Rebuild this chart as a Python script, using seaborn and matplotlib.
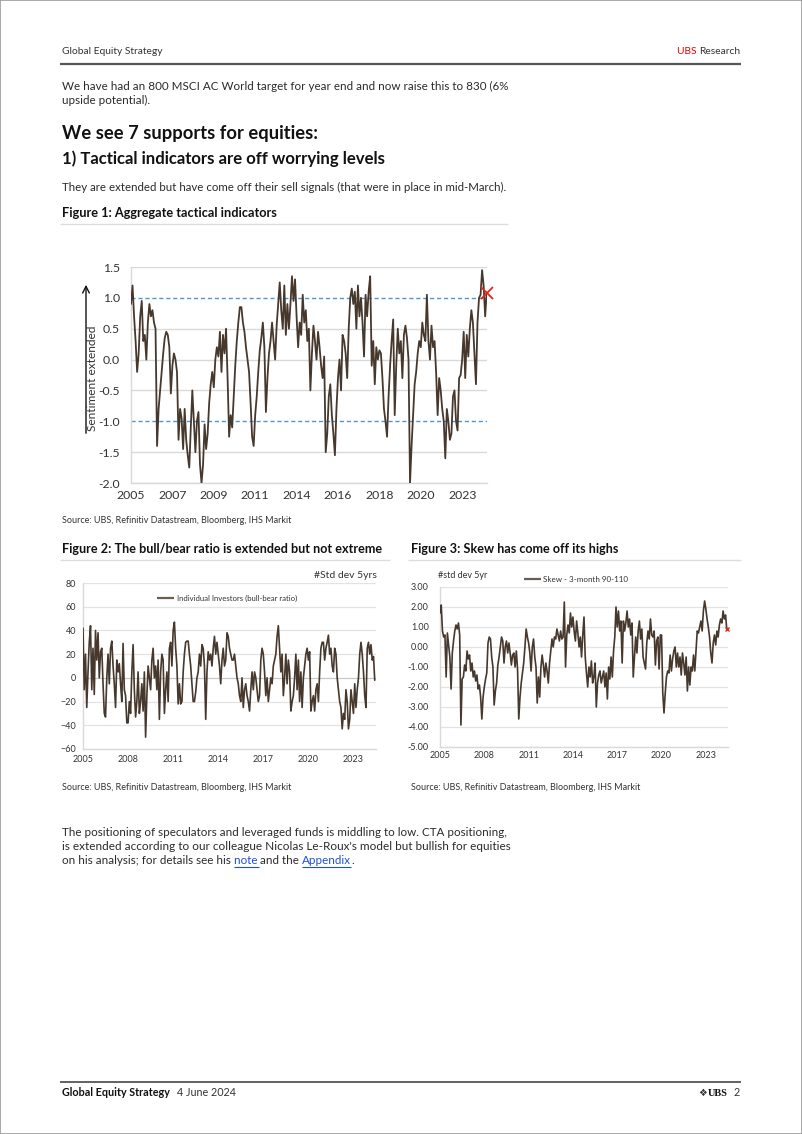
import numpy as np
import pandas as pd
import matplotlib
matplotlib.use("Agg")
import matplotlib.pyplot as plt
from matplotlib.lines import Line2D
from matplotlib.patches import FancyArrowPatch, Rectangle
import seaborn as sns

# ---------------- data (monthly readings, Jan 2005 onwards) ----------------
tactical_values = [
    0.9, 1.2, 0.7, 0.3, -0.2, 0.1, 0.7, 0.95, 0.3, 0.4, 0.0, 0.6,
    0.9, 0.7, 0.8, 0.6, 0.5, -1.4, -0.8, -0.5, -0.2, 0.1, 0.35, 0.45,
    0.4, 0.2, -0.55, -0.1, 0.1, 0.0, -0.2, -1.3, -0.8, -0.95, -1.45, -0.8,
    -1.3, -1.55, -1.75, -1.1, -0.5, -1.0, -1.5, -1.0, -0.85, -1.7, -2.0, -1.7,
    -1.05, -1.45, -1.2, -0.7, -0.4, -0.2, -0.45, 0.0, 0.2, 0.05, 0.45, -0.2,
    0.4, 0.1, 0.5, -0.3, -1.25, -0.9, -1.1, -0.6, -0.1, 0.3, 0.6, 0.85,
    0.85, 0.6, 0.45, 0.2, 0.0, -0.2, -0.7, -1.25, -1.4, -0.9, -0.6, -0.2,
    0.15, 0.35, 0.6, 0.2, -0.85, -0.3, 0.1, 0.3, 0.6, 0.3, 0.0, 0.55,
    0.9, 1.25, 0.8, 0.5, 1.2, 0.4, 0.9, 0.5, 0.9, 1.35, 0.95, 1.3,
    0.7, 0.2, 0.6, 0.4, 1.05, 0.6, 0.8, 0.3, 0.5, -0.5, 0.1, 0.55,
    0.3, 0.0, 0.45, 0.2, -0.1, -0.3, 0.05, -1.5, -1.2, -0.6, -0.4, -0.9,
    -1.2, -1.55, -0.8, -0.3, 0.0, -0.5, 0.4, 0.3, 0.1, -0.3, 0.5, 1.0,
    1.15, 0.9, 1.1, 0.5, 1.2, 0.7, 1.0, 0.6, 0.05, 1.05, 0.7, 1.1,
    1.35, -0.1, 0.3, -0.4, 0.2, 0.0, 0.15, 0.1, -0.3, -0.8, -1.0, -1.25,
    -0.6, -0.1, 0.3, 0.65, -0.9, -0.1, 0.5, 0.1, 0.3, -0.3, 0.4, 0.55,
    0.35, 0.0, -2.0, -1.4, -0.9, -0.4, -0.2, 0.1, 0.3, 0.2, 0.6, 0.4,
    0.3, 1.05, 0.3, 0.0, 0.55, 0.2, 0.3, -0.2, -0.9, -0.3, -0.5, -0.8,
    -1.0, -1.6, -0.8, -1.0, -1.3, -1.2, -0.6, -0.5, -1.0, -1.15, -0.3, -0.25,
    0.0, 0.45, -0.3, 0.4, 0.05, 0.5, 0.8, 0.6, 0.1, -0.4, 0.6, 1.0,
    1.05, 1.45, 1.2, 0.7, 1.08,
]
tactical_ticklabels = ["2005", "2007", "2009", "2011", "2014", "2016", "2018", "2020", "2023"]
tactical_yticks = [-2.0, -1.5, -1.0, -0.5, 0.0, 0.5, 1.0, 1.5]
tactical_bands = [1.0, -1.0]

bullbear_values = [
    42, -10, 20, -25, 5, 30, 44, -10, 25, -14, 40, 15,
    38, 0, 22, 25, -5, -30, -33, 0, 20, -5, 25, 31,
    10, -5, -25, 15, 5, 12, -5, -20, 29, -10, -15, -38,
    -38, -20, -30, 5, 28, -10, -33, -20, 5, -30, -20, -5,
    -28, 5, -50, -15, 10, 0, -10, 15, 25, 0, 10, -10,
    15, -35, 5, 20, 15, -30, -10, 5, -20, 25, 30, 10,
    40, 47, 25, 10, -22, -5, -22, -20, 5, 20, 30, 31,
    31, 20, 10, -5, -20, -20, -12, 0, 5, 20, 10, 28,
    25, 10, -35, 5, 22, 15, 20, 10, 25, 35, 20, 30,
    20, 10, -5, 15, 25, 10, 15, 38, 35, 25, 20, 15,
    15, 20, 10, 0, -5, -15, -20, 0, -25, -10, -5, -15,
    -20, -28, -10, 5, -10, 5, 0, -10, -20, -15, 15, 25,
    20, 5, -15, 0, -20, -10, 0, -5, 10, 15, 20, 35,
    44, 25, 5, 20, -15, 0, 20, -5, 15, 5, -28, -20,
    -15, 0, 20, -10, 15, -20, 5, -25, 0, 10, 20, 25,
    15, 22, -28, -20, -15, -28, -10, -5, -20, 5, 25, 30,
    30, 15, 25, 30, 36, 20, 25, 10, 5, 25, 20, 0,
    -10, -20, -25, -43, -30, -35, -10, -20, -43, -35, -10, -20,
    -30, -5, -25, -10, 0, 20, 30, 20, 5, -15, -25, 25,
    30, 20, 28, 15, 18, -2,
]
bullbear_ticklabels = ["2005", "2008", "2011", "2014", "2017", "2020", "2023"]
bullbear_yticks = [-60, -40, -20, 0, 20, 40, 60, 80]

skew_values = [
    1.7, 2.1, 0.8, 0.5, 0.6, -1.5, 0.7, 0.1, -0.5, -2.1, -0.3, 0.3,
    0.8, 1.1, 0.9, 1.2, 0.6, -3.9, -1.6, -1.5, -0.9, -1.2, -0.2, -0.6,
    -0.4, -1.2, -0.8, -1.5, -1.2, -1.7, -1.4, -2.1, -1.9, -2.5, -3.6, -2.5,
    -2.0, -1.6, -1.3, 0.2, 0.5, 0.4, -0.5, -1.0, -2.9, -2.2, -1.8, -0.9,
    -0.5, 0.0, 0.5, 0.3, -0.8, 0.0, 0.3, -0.3, 0.2, -0.3, -0.9, -0.4,
    -0.3, -1.0, -0.2, -1.1, -3.6, -2.5, -1.8, -1.3, -0.8, 0.0, 0.9, 0.5,
    0.2, -0.3, -1.2, 0.0, 0.4, -0.5, -1.0, -2.8, -1.5, -2.5, -1.0, -0.4,
    -0.9, -1.5, -0.8, -1.2, -1.8, -0.8, -0.2, 0.4, 0.0, 0.5, 0.4, 0.9,
    0.6, 0.3, 0.8, 0.4, 0.5, 2.25, -1.0, 0.6, 1.1, 0.7, 1.7, 1.0,
    1.5, 0.8, 0.3, 1.3, 0.7, 0.0, 0.5, -0.5, 0.6, 1.5, -0.5, -1.3,
    -2.0, -1.0, -1.5, -0.7, -1.8, -1.5, -0.8, -3.0, -1.8, -1.4, -1.2, -1.8,
    -1.5, -1.2, -2.0, -1.3, -2.6, -1.0, -1.6, -0.5, -1.5, -0.2, 0.5, 2.0,
    1.0, 1.8, 0.8, 1.3, -0.8, 1.3, 0.8, 1.2, 1.8, 1.0, 1.4, 0.6,
    1.2, -1.5, -0.5, 0.5, -0.3, 0.8, 1.3, 0.4, 0.9, -0.5, -0.8, -1.1,
    0.2, 0.8, 0.4, 1.4, 0.6, 0.5, 0.8, -0.9, 0.3, 0.5, -1.1, 0.6,
    0.6, -2.3, -3.3, -2.3, -1.5, -1.2, -1.3, -0.4, -1.2, -0.6, -0.2, 0.0,
    -1.0, -0.3, -1.0, -0.5, -1.4, -0.3, -0.8, -1.4, -0.5, -2.2, -1.0, -1.9,
    -1.0, -1.2, -0.4, -1.2, -0.2, 0.8, 0.7, 1.0, 1.3, 0.8, 1.8, 2.3,
    1.9, 1.4, 1.0, 0.5, -0.3, -0.8, 0.2, 0.6, 0.1, 0.8, 0.5, 1.1,
    1.4, 1.2, 1.8, 1.4, 1.6, 0.9,
]
skew_ticklabels = ["2005", "2008", "2011", "2014", "2017", "2020", "2023"]
skew_yticks = [-5, -4, -3, -2, -1, 0, 1, 2, 3]

START_YEAR = 2005

# ---------------- figure setup ----------------
sns.set_theme(style="white")
plt.rcParams["font.family"] = ["Lato", "DejaVu Sans"]

W, H = 802, 1134
fig = plt.figure(figsize=(W / 100, H / 100), dpi=100)
fig.patch.set_facecolor("white")
renderer = fig.canvas.get_renderer()

TXT = "#2b2b2b"
GRID = "#d9d9d9"
LINE = "#47382d"
REG = "normal"


def fx(x):
    return x / W


def fy(y):
    return 1 - y / H


def hline(y, x0, x1, color, lw):
    fig.add_artist(Line2D([fx(x0), fx(x1)], [fy(y), fy(y)], transform=fig.transFigure,
                          color=color, lw=lw, solid_capstyle="butt"))


def fit_size(s, width, **kw):
    t = fig.text(0, 0, s, fontsize=10, **kw)
    w = t.get_window_extent(renderer).width
    t.remove()
    return 10 * width / w


def put(s, x, y, size, ha="left", **kw):
    color = kw.pop("color", TXT)
    kw.setdefault("fontweight", REG)
    return fig.text(fx(x), fy(y), s, fontsize=size, ha=ha, va="center", color=color, **kw)


def put_fit(s, x, y, width, **kw):
    fw = kw.get("fontweight", REG)
    size = fit_size(s, width, fontweight=fw)
    return put(s, x, y, size, **kw)


def right_edge(t):
    return t.get_window_extent(renderer).x1


def left_edge(t):
    return t.get_window_extent(renderer).x0


# page border
fig.add_artist(Rectangle((0, 0), 1, 1, transform=fig.transFigure, fill=False,
                         edgecolor="#9a9a9a", lw=1.2))

# header
hs = fit_size("Global Equity Strategy", 101)
put("Global Equity Strategy", 62, 51, hs, color="#333333")
tr = put("Research", 740, 51, hs, ha="right", color="#333333")
put("UBS ", left_edge(tr), 51, hs, ha="right", color="#e60000")
hline(64, 60, 741, "#555555", 1.6)

# body text
bs = fit_size("We have had an 800 MSCI AC World target for year end and now raise this to 830 (6%", 444)
put("We have had an 800 MSCI AC World target for year end and now raise this to 830 (6%", 62, 86, bs)
put("upside potential).", 62, 100, bs)

put_fit("We see 7 supports for equities:", 62, 134, 256, fontweight="bold", color="#111111")
put_fit("1) Tactical indicators are off worrying levels", 62, 159, 326, fontweight="bold", color="#111111")
put_fit("They are extended but have come off their sell signals (that were in place in mid-March).",
        62, 187, 443)

fs = fit_size("Figure 1: Aggregate tactical indicators", 214, fontweight="bold")
put("Figure 1: Aggregate tactical indicators", 62, 213, fs, fontweight="bold", color="#111111")
hline(224, 60, 508, "#dddddd", 1)

ss = fit_size("Source: UBS, Refinitiv Datastream, Bloomberg, IHS Markit", 229)
put("Source: UBS, Refinitiv Datastream, Bloomberg, IHS Markit", 62, 521, ss, color="#333333")

put_fit("Figure 2: The bull/bear ratio is extended but not extreme", 62, 549, 320,
        fontweight="bold", color="#111111")
put_fit("Figure 3: Skew has come off its highs", 411, 549, 208, fontweight="bold", color="#111111")
hline(560, 60, 390, "#dddddd", 1)
hline(560, 408, 741, "#dddddd", 1)

put("Source: UBS, Refinitiv Datastream, Bloomberg, IHS Markit", 62, 787, ss, color="#333333")
put("Source: UBS, Refinitiv Datastream, Bloomberg, IHS Markit", 411, 787, ss, color="#333333")

# paragraph with links
put_fit("The positioning of speculators and leveraged funds is middling to low. CTA positioning,",
        62, 832, 445)
put_fit("is extended according to our colleague Nicolas Le-Roux's model but bullish for equities",
        62, 846, 445)
t1 = put("on his analysis; for details see his ", 62, 861, bs)
t2 = put("note ", right_edge(t1), 861, bs, color="#1f4fd6")
t3 = put("and the ", right_edge(t2), 861, bs)
t4 = put("Appendix", right_edge(t3), 861, bs, color="#1f4fd6")
put(".", right_edge(t4), 861, bs)
for t in (t2, t4):
    bb = t.get_window_extent(renderer)
    hline(867, bb.x0, bb.x1 if t is t4 else bb.x1 - 1, "#1f4fd6", 0.8)

# footer
hline(1082, 60, 741, "#555555", 1.3)
tf = put("Global Equity Strategy", 62, 1093, hs * 1.05, fontweight="bold", color="#111111")
put("4 June 2024", right_edge(tf) + 7, 1093, hs * 1.05, color="#333333")
tp = put("2", 740, 1093, hs * 1.05, ha="right", color="#333333")
tu = put("UBS", left_edge(tp) - 6, 1093, hs * 1.0, ha="right", color="#111111",
         family=["Liberation Serif"], fontweight="bold")
put("\u2756", left_edge(tu) - 1, 1093, hs * 0.95, ha="right", color="#333333",
    family=["DejaVu Sans"])


def axes_px(left, top, right, bottom):
    return fig.add_axes([fx(left), fy(bottom), (right - left) / W, (bottom - top) / H])


def style_axes(ax):
    sns.despine(ax=ax, top=True, right=True)
    for s in ("left", "bottom"):
        ax.spines[s].set_color(GRID)
        ax.spines[s].set_linewidth(1)
    ax.set_xlabel("")
    ax.set_ylabel("")
    ax.set_facecolor("white")


# ---------------- Figure 1 ----------------
ax1 = axes_px(131, 267, 487, 483)
x1 = START_YEAR + np.arange(len(tactical_values)) / 12
df1 = pd.DataFrame({"date": x1, "value": tactical_values})
for yv in tactical_yticks:
    if yv not in tactical_bands:
        ax1.axhline(yv, color=GRID, lw=1, zorder=0)
for yv in tactical_bands:
    ax1.axhline(yv, color="#4f97d3", lw=1, ls=(0, (3, 2)), zorder=1)
sns.lineplot(data=df1, x="date", y="value", ax=ax1, color=LINE, lw=1.3, zorder=3)
ax1.plot(df1["date"].iloc[-1], df1["value"].iloc[-1], marker="x", color="#e8231d",
         ms=8, mew=1.3, zorder=4, clip_on=False)
ax1.set_xlim(START_YEAR, START_YEAR + 2.25 * 8.6)
ax1.set_ylim(-2.0, 1.5)
ax1.set_yticks(tactical_yticks)
ax1.set_yticklabels([f"{v:.1f}" for v in tactical_yticks])
ax1.set_xticks(START_YEAR + 2.25 * np.arange(len(tactical_ticklabels)))
ax1.set_xticklabels(tactical_ticklabels)
style_axes(ax1)
ax1.tick_params(axis="both", length=0, labelsize=8.8, labelcolor="#333333")
ax1.tick_params(axis="y", pad=8)
ax1.tick_params(axis="x", pad=5)

fig.add_artist(FancyArrowPatch((fx(86), fy(436)), (fx(86), fy(282)), transform=fig.transFigure,
                               arrowstyle="->", mutation_scale=12, color="#111111", lw=1))
fig.text(fx(93), fy(378), "Sentiment extended", rotation=90, ha="center", va="center",
         fontsize=8.6, color="#333333")

# ---------------- Figure 2 ----------------
ax2 = axes_px(83, 583, 376, 749)
x2 = START_YEAR + np.arange(len(bullbear_values)) / 12
df2 = pd.DataFrame({"date": x2, "value": bullbear_values})
for yv in bullbear_yticks:
    ax2.axhline(yv, color="#c8c8c8" if yv == 0 else "#e3e3e3", lw=0.9, zorder=0)
sns.lineplot(data=df2, x="date", y="value", ax=ax2, color=LINE, lw=1.2, zorder=3)
ax2.set_xlim(START_YEAR, START_YEAR + 19.5)
ax2.set_ylim(-60, 80)
ax2.set_yticks(bullbear_yticks)
ax2.set_xticks(START_YEAR + 3 * np.arange(len(bullbear_ticklabels)))
ax2.set_xticklabels(bullbear_ticklabels)
style_axes(ax2)
ax2.tick_params(axis="both", length=0, labelsize=6.5, labelcolor="#333333")
ax2.tick_params(axis="y", pad=5)
ax2.tick_params(axis="x", pad=4)
put("#Std dev 5yrs", 377, 575, 7.5, ha="right", color="#333333")
hline(598, 157, 174, "#6b5d52", 1.6)
put_fit("Individual Investors (bull-bear ratio)", 177, 598, 121, color="#333333")

# ---------------- Figure 3 ----------------
ax3 = axes_px(440, 587, 728, 747)
x3 = START_YEAR + np.arange(len(skew_values)) / 12
df3 = pd.DataFrame({"date": x3, "value": skew_values})
for yv in skew_yticks:
    ax3.axhline(yv, color="#e3e3e3", lw=0.9, zorder=0)
sns.lineplot(data=df3, x="date", y="value", ax=ax3, color=LINE, lw=1.2, zorder=3)
ax3.plot(df3["date"].iloc[-1], df3["value"].iloc[-1], marker="x", color="#e8231d",
         ms=3.5, mew=1.0, zorder=4, clip_on=False)
ax3.set_xlim(START_YEAR, START_YEAR + 19.5)
ax3.set_ylim(-5, 3)
ax3.set_yticks(skew_yticks)
ax3.set_yticklabels([f"{v:.2f}" for v in skew_yticks])
ax3.set_xticks(START_YEAR + 3 * np.arange(len(skew_ticklabels)))
ax3.set_xticklabels(skew_ticklabels)
style_axes(ax3)
ax3.tick_params(axis="both", length=0, labelsize=6.5, labelcolor="#333333")
ax3.tick_params(axis="y", pad=8)
ax3.tick_params(axis="x", pad=3)
put("#std dev 5yr", 438, 575, 6.5, color="#333333")
hline(579, 524, 541, "#6b5d52", 1.6)
put_fit("Skew - 3-month 90-110", 543, 579, 84, color="#333333")

fig.savefig("out.png", dpi=100, facecolor="white")
